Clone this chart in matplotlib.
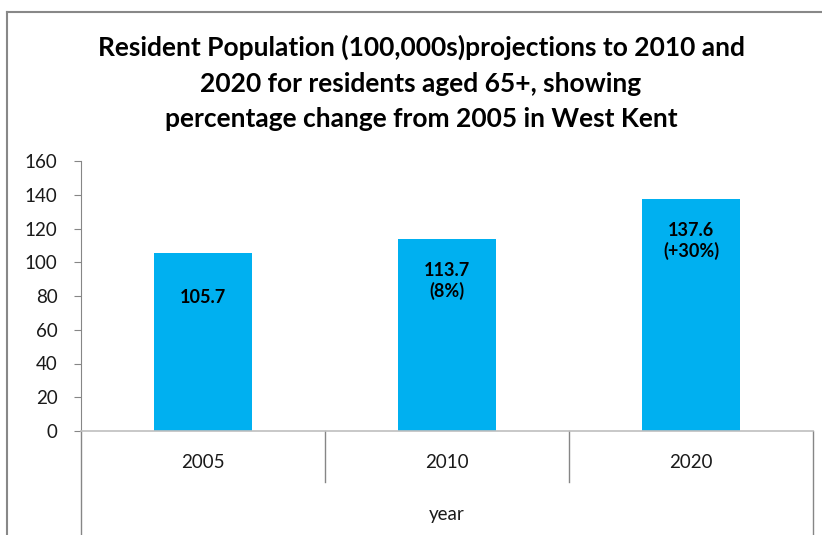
import numpy as np
import matplotlib.pyplot as plt
from matplotlib.lines import Line2D

years = ["2005", "2010", "2020"]
population = [105.7, 113.7, 137.6]
bar_labels = ["105.7", "113.7\n(8%)", "137.6\n(+30%)"]
label_y = [84, 100, 124]   # where the label text sits, in data units

title = ("Resident Population (100,000s)projections to 2010 and\n"
         "2020 for residents aged 65+, showing\n"
         "percentage change from 2005 in West Kent")

plt.rcParams['font.family'] = ['Lato', 'DejaVu Sans']

fig = plt.figure(figsize=(8.22, 5.35), dpi=100)
ax = fig.add_axes([81/822, 1-431/535, (813-81)/822, 270/535])

x = np.arange(len(years))
ax.bar(x, population, width=0.4, color="#00B0F0", zorder=2)

for xi, lab, ly in zip(x, bar_labels, label_y):
    ax.text(xi, ly, lab, ha="center", va="top", fontsize=13,
            fontweight="bold", linespacing=1.2)

ax.set_xlim(-0.5, 2.5)
ax.set_ylim(0, 160)
ax.set_yticks(np.arange(0, 161, 20))
ax.set_xticks([])

for s in ["top", "right"]:
    ax.spines[s].set_visible(False)
ax.spines["left"].set_color("#868686")
ax.spines["bottom"].set_color("#BFBFBF")
ax.spines["bottom"].set_linewidth(1.2)
ax.tick_params(axis="y", length=5, color="#868686", pad=12,
               labelsize=13.5, labelcolor="#1a1a1a")

# category table lines below the axis
tr = ax.get_xaxis_transform()
for xs in [0.5, 1.5]:
    ax.plot([xs, xs], [0, -0.189], color="#868686", lw=1, transform=tr, clip_on=False)
for xs in [-0.5, 2.5]:
    ax.plot([xs, xs], [0, -0.40], color="#868686", lw=1, transform=tr, clip_on=False)

for xi, yr in zip(x, years):
    ax.text(xi, -0.118, yr, transform=tr, ha="center", va="center",
            fontsize=13.5, color="#1a1a1a")
ax.text(1, -0.31, "year", transform=tr, ha="center", va="center",
        fontsize=13.5, color="#1a1a1a")

fig.text(421/822, 1-83/535, title, ha="center", va="center", fontsize=19,
         fontweight="bold", linespacing=1.58)

# chart frame: only left and top edges are visible
fig.add_artist(Line2D([7/822, 7/822], [0, 1-12/535], color="#888888", lw=1.5))
fig.add_artist(Line2D([7/822, 1], [1-12/535, 1-12/535], color="#888888", lw=1.5))

fig.savefig("out.png", dpi=100)
